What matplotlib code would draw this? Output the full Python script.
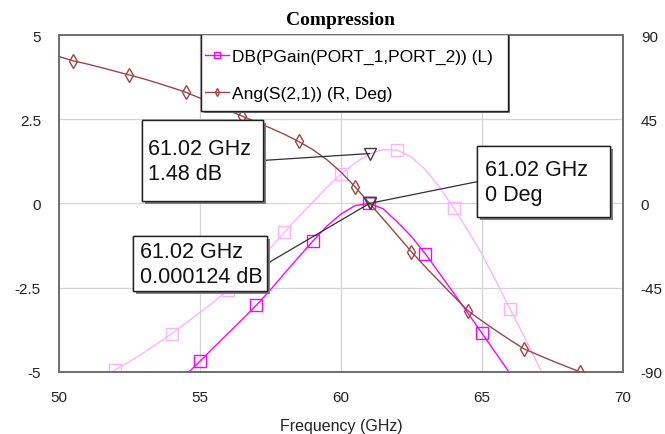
import matplotlib
matplotlib.use("Agg")
import matplotlib.pyplot as plt
import matplotlib.patheffects as pe
from matplotlib.patches import Rectangle
import numpy as np

plt.rcParams['font.family'] = ['Liberation Sans', 'DejaVu Sans']
plt.rcParams['axes.unicode_minus'] = False

# --- data ---
# phase of S(2,1), degrees (right axis), 0.5 GHz sweep
freq_phase = np.arange(50.0, 69.01, 0.5)
phase_deg = [78.5, 76.2, 74.5, 72.6, 70.6, 68.6, 66.6, 64.3, 61.9, 59.4,
             56.3, 53.0, 49.7, 46.6, 43.5, 40.3, 36.9, 33.1, 28.8, 23.4,
             16.8, 8.9, 0.3, -8.3, -17.0, -25.8, -34.0, -41.8, -49.6, -57.3,
             -62.8, -68.0, -73.0, -77.8, -81.0, -84.2, -87.2, -90.2, -93.0]

# gain in dB (left axis), bright trace
freq_gain = np.arange(54.5, 66.01, 0.5)
gain_db = [-5.1, -4.69, -4.27, -3.86, -3.45, -3.03, -2.57, -2.08, -1.6, -1.13,
           -0.68, -0.32, -0.07, 0.0, -0.16, -0.55, -0.98, -1.5, -2.08, -2.66,
           -3.25, -3.85, -4.45, -5.05]

# gain in dB (left axis), faint trace
freq_gain2 = np.arange(51.5, 67.51, 0.5)
gain2_db = [-5.2, -4.94, -4.7, -4.44, -4.16, -3.87, -3.56, -3.24, -2.92, -2.58,
            -2.2, -1.78, -1.33, -0.86, -0.4, 0.03, 0.47, 0.86, 1.2, 1.46,
            1.6, 1.58, 1.38, 1.0, 0.48, -0.13, -0.8, -1.5, -2.3, -3.13,
            -3.95, -4.8, -5.6]

marker_freq = 61.02
marker_gain2 = 1.48
marker_gain = 0.000124
marker_phase = 0.0

labels = ['DB(PGain(PORT_1,PORT_2)) (L)', 'Ang(S(2,1)) (R, Deg)']

MAGENTA = '#ff00ff'
PINK = '#ffb0ff'
BROWN = '#a04444'

fig = plt.figure(figsize=(6.65, 4.35), dpi=100)
ax = fig.add_axes([0.0887, 0.1432, 0.8477, 0.774])
ax2 = ax.twinx()

l_pink, = ax.plot(freq_gain2, gain2_db, color=PINK, lw=1, marker='s', ms=8,
                  mfc='none', mec=PINK, markevery=(1, 4), zorder=3)
l_gain, = ax.plot(freq_gain, gain_db, color=MAGENTA, lw=1, marker='s', ms=8,
                  mfc='none', mec=MAGENTA, markevery=(1, 4), zorder=4)
l_phase, = ax2.plot(freq_phase, phase_deg, color=BROWN, lw=1, marker='d', ms=7,
                    mfc='none', mec=BROWN, markevery=(1, 4), zorder=3)

# markers
ax.plot([marker_freq], [marker_gain2], marker='v', ms=8, mfc='none', mec='#404040',
        ls='none', zorder=5)
ax.plot([marker_freq], [marker_gain], marker='v', ms=8, mfc='none', mec='#404040',
        ls='none', zorder=5)
ax2.plot([marker_freq], [marker_phase], marker='v', ms=8, mfc='none', mec='#404040',
         ls='none', zorder=5)

ax.set_xlim(50, 70)
ax.set_ylim(-5, 5)
ax2.set_ylim(-90, 90)
ax.set_xticks([50, 55, 60, 65, 70])
ax.set_yticks([5, 2.5, 0, -2.5, -5])
ax.set_yticklabels(['5', '2.5', '0', '-2.5', '-5'])
ax2.set_yticks([90, 45, 0, -45, -90])
ax.grid(True, color='#d4d4d4', lw=0.9)
ax.set_axisbelow(True)

ax.tick_params(axis='x', length=0, pad=13, labelsize=11, labelcolor='#222222')
ax.tick_params(axis='y', length=0, pad=13, labelsize=11, labelcolor='#222222')
ax2.tick_params(axis='y', length=0, pad=13, labelsize=11, labelcolor='#222222')
for a in (ax, ax2):
    for s in a.spines.values():
        s.set_color('#707070')
        s.set_linewidth(1.3)

ax.set_xlabel('Frequency (GHz)', fontsize=11.5, labelpad=10, color='#222222')
ax.set_title('Compression', fontfamily=['Liberation Serif'], fontweight='bold',
             fontsize=14, pad=8)


def shadow_box(x0, y0, w, h, z):
    rect = Rectangle((x0, y0), w, h, transform=ax2.transAxes, facecolor='white',
                     edgecolor='#202020', lw=1.0, zorder=z)
    rect.set_path_effects([pe.withSimplePatchShadow(offset=(2, -2),
                                                    shadow_rgbFace='#7f7f7f', alpha=1),
                           pe.Normal()])
    ax2.add_patch(rect)


# legend: own frame so the padding can differ across and down
shadow_box(0.2519, 0.7752, 0.544, 0.2278, 9)
leg = ax2.legend([l_gain, l_phase], labels, loc='upper left',
                 bbox_to_anchor=(0.2426, 0.9865), fontsize=12.5, frameon=False,
                 handlelength=1.35, handletextpad=0.2, borderpad=0.55,
                 labelspacing=1.25, markerscale=0.6, borderaxespad=0)
leg.set_zorder(10)

# marker readout boxes: (left, bottom, width, height) in axes fraction
boxes = [
    ((0.147, 0.507, 0.215, 0.241), ['61.02 GHz', '1.48 dB'], (0.158, [0.6466, 0.5723]),
     (1, 0.5), (marker_freq, marker_gain2), ax.transData),
    ((0.131, 0.239, 0.238, 0.164), ['61.02 GHz', '0.000124 dB'], (0.1437, [0.3406, 0.2664]),
     (1, 0.5), (marker_freq, marker_gain), ax.transData),
    ((0.742, 0.459, 0.235, 0.211), ['61.02 GHz', '0 Deg'], (0.7557, [0.5842, 0.5100]),
     (0, 0.5), (marker_freq, marker_phase), ax2.transData),
]
for (x0, y0, w, h), lines, (tx, tys), rel, xy, trans in boxes:
    shadow_box(x0, y0, w, h, 8)
    for txt, ty in zip(lines, tys):
        ax2.text(tx, ty, txt, transform=ax2.transAxes, fontsize=15.5, va='baseline',
                 ha='left', color='#111111', zorder=9)
    start = (x0 + rel[0] * w, y0 + rel[1] * h)
    ax2.annotate('', xy=xy, xycoords=trans, xytext=start, textcoords='axes fraction',
                 arrowprops=dict(arrowstyle='-', color='#303030', lw=0.9,
                                 shrinkA=0, shrinkB=0), zorder=7)

fig.savefig('out.png', dpi=100)
